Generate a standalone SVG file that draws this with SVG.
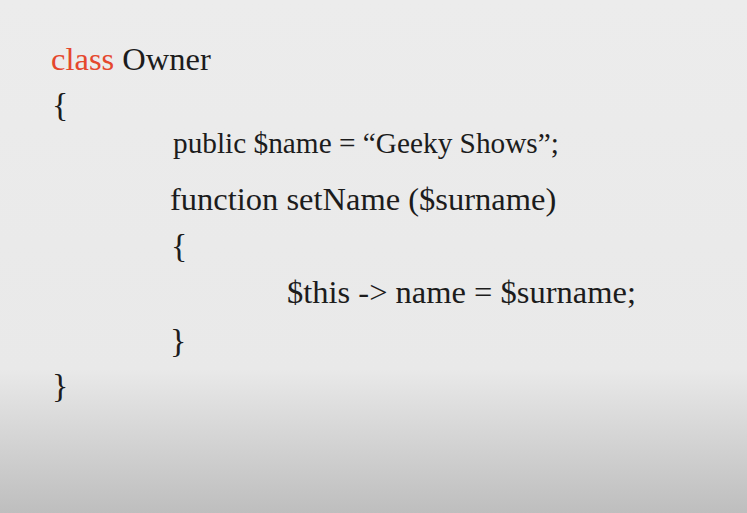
<svg xmlns="http://www.w3.org/2000/svg" width="747" height="513" viewBox="0 0 747 513">
<defs>
<linearGradient id="bg" x1="0" y1="0" x2="0" y2="1">
<stop offset="0" stop-color="#ececec"/>
<stop offset="0.72" stop-color="#e9e9e9"/>
<stop offset="1" stop-color="#bebebe"/>
</linearGradient>
</defs>
<style>
text{font-family:"Liberation Serif","Times New Roman",serif;font-size:32.5px;fill:#1c1c1c}
.kw{fill:#e5472d}
</style>
<rect width="747" height="513" fill="url(#bg)"/>
<g id="code">
<text x="51" y="70"><tspan class="kw">class</tspan> Owner</text>
<text x="52" y="116" style="font-size:34px">{</text>
<text x="173" y="153" style="font-size:29.3px">public $name = “Geeky Shows”;</text>
<text x="170" y="210">function setName ($surname)</text>
<text x="171" y="257" style="font-size:34px">{</text>
<text x="287" y="303">$this -&gt; name = $surname;</text>
<text x="170" y="352" style="font-size:34px">}</text>
<text x="52" y="397" style="font-size:34px">}</text>
</g>
</svg>
